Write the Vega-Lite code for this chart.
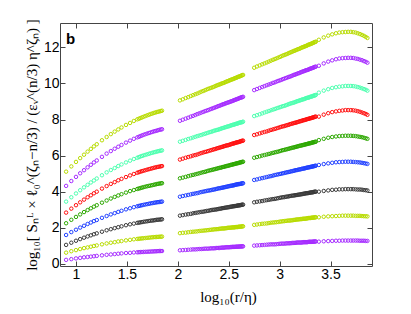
{"$schema":"https://vega.github.io/schema/vega-lite/v6.json","width":312,"height":243,"autosize":"none","padding":{"left":60,"top":23,"right":39,"bottom":48},"background":"white",
"title":{"text":"b","anchor":"start","frame":"group","orient":"top","dx":6,"dy":32,"fontSize":15,"fontWeight":"bold","font":"Liberation Sans","color":"black","offset":4},
"config":{"view":{"stroke":null},"axis":{"grid":false,"domainColor":"#444","domainWidth":1,"tickColor":"#444","tickSize":-5,"labelFont":"Liberation Sans","labelFontSize":14,"labelColor":"black","labelPadding":6,"titleFont":"Liberation Serif","titleFontSize":15,"titleFontWeight":"normal","titleColor":"black"}},
"data":{"values":[
{"n":1,"x":0.903,"y":0.22},{"n":1,"x":0.954,"y":0.26},{"n":1,"x":1.000,"y":0.30},{"n":1,"x":1.041,"y":0.33},{"n":1,"x":1.079,"y":0.36},{"n":1,"x":1.114,"y":0.38},{"n":1,"x":1.146,"y":0.40},{"n":1,"x":1.176,"y":0.42},{"n":1,"x":1.204,"y":0.44},{"n":1,"x":1.255,"y":0.47},{"n":1,"x":1.301,"y":0.50},{"n":1,"x":1.342,"y":0.52},{"n":1,"x":1.380,"y":0.54},{"n":1,"x":1.415,"y":0.56},{"n":1,"x":1.447,"y":0.58},{"n":1,"x":1.491,"y":0.60},{"n":1,"x":1.531,"y":0.61},{"n":1,"x":1.568,"y":0.63},{"n":1,"x":1.602,"y":0.64},{"n":1,"x":1.633,"y":0.65},{"n":1,"x":1.663,"y":0.66},{"n":1,"x":1.699,"y":0.67},{"n":1,"x":1.732,"y":0.68},{"n":1,"x":1.763,"y":0.69},{"n":1,"x":1.792,"y":0.70},{"n":1,"x":1.820,"y":0.71},{"n":1,"x":1.845,"y":0.71},
{"n":1,"x":2.021,"y":0.75},{"n":1,"x":2.077,"y":0.77},{"n":1,"x":2.127,"y":0.79},{"n":1,"x":2.171,"y":0.80},{"n":1,"x":2.211,"y":0.82},{"n":1,"x":2.249,"y":0.83},{"n":1,"x":2.282,"y":0.84},{"n":1,"x":2.314,"y":0.85},{"n":1,"x":2.343,"y":0.86},{"n":1,"x":2.371,"y":0.87},{"n":1,"x":2.397,"y":0.88},{"n":1,"x":2.421,"y":0.89},{"n":1,"x":2.444,"y":0.90},{"n":1,"x":2.466,"y":0.91},{"n":1,"x":2.487,"y":0.92},{"n":1,"x":2.507,"y":0.92},{"n":1,"x":2.526,"y":0.93},{"n":1,"x":2.545,"y":0.94},{"n":1,"x":2.562,"y":0.94},{"n":1,"x":2.579,"y":0.95},{"n":1,"x":2.595,"y":0.95},{"n":1,"x":2.611,"y":0.96},{"n":1,"x":2.626,"y":0.97},{"n":1,"x":2.641,"y":0.97},
{"n":1,"x":2.750,"y":1.01},{"n":1,"x":2.804,"y":1.03},{"n":1,"x":2.851,"y":1.05},{"n":1,"x":2.894,"y":1.07},{"n":1,"x":2.934,"y":1.08},{"n":1,"x":2.969,"y":1.09},{"n":1,"x":3.003,"y":1.11},{"n":1,"x":3.033,"y":1.12},{"n":1,"x":3.062,"y":1.13},{"n":1,"x":3.089,"y":1.14},{"n":1,"x":3.115,"y":1.15},{"n":1,"x":3.139,"y":1.16},{"n":1,"x":3.161,"y":1.17},{"n":1,"x":3.183,"y":1.18},{"n":1,"x":3.204,"y":1.18},{"n":1,"x":3.223,"y":1.19},{"n":1,"x":3.242,"y":1.20},{"n":1,"x":3.260,"y":1.20},{"n":1,"x":3.277,"y":1.21},{"n":1,"x":3.294,"y":1.22},{"n":1,"x":3.310,"y":1.22},{"n":1,"x":3.326,"y":1.23},{"n":1,"x":3.340,"y":1.23},{"n":1,"x":3.355,"y":1.24},
{"n":1,"x":3.385,"y":1.23},{"n":1,"x":3.433,"y":1.25},{"n":1,"x":3.477,"y":1.26},{"n":1,"x":3.516,"y":1.27},{"n":1,"x":3.553,"y":1.28},{"n":1,"x":3.586,"y":1.28},{"n":1,"x":3.617,"y":1.29},{"n":1,"x":3.646,"y":1.29},{"n":1,"x":3.673,"y":1.29},{"n":1,"x":3.699,"y":1.29},{"n":1,"x":3.723,"y":1.29},{"n":1,"x":3.746,"y":1.29},{"n":1,"x":3.767,"y":1.29},{"n":1,"x":3.788,"y":1.28},{"n":1,"x":3.808,"y":1.28},{"n":1,"x":3.827,"y":1.28},{"n":1,"x":3.845,"y":1.27},{"n":1,"x":3.862,"y":1.27},
{"n":2,"x":0.903,"y":0.62},{"n":2,"x":0.954,"y":0.70},{"n":2,"x":1.000,"y":0.76},{"n":2,"x":1.041,"y":0.82},{"n":2,"x":1.079,"y":0.87},{"n":2,"x":1.114,"y":0.91},{"n":2,"x":1.146,"y":0.95},{"n":2,"x":1.176,"y":0.99},{"n":2,"x":1.204,"y":1.02},{"n":2,"x":1.255,"y":1.08},{"n":2,"x":1.301,"y":1.13},{"n":2,"x":1.342,"y":1.17},{"n":2,"x":1.380,"y":1.20},{"n":2,"x":1.415,"y":1.24},{"n":2,"x":1.447,"y":1.26},{"n":2,"x":1.491,"y":1.30},{"n":2,"x":1.531,"y":1.33},{"n":2,"x":1.568,"y":1.36},{"n":2,"x":1.602,"y":1.38},{"n":2,"x":1.633,"y":1.40},{"n":2,"x":1.663,"y":1.42},{"n":2,"x":1.699,"y":1.44},{"n":2,"x":1.732,"y":1.46},{"n":2,"x":1.763,"y":1.48},{"n":2,"x":1.792,"y":1.49},{"n":2,"x":1.820,"y":1.50},{"n":2,"x":1.845,"y":1.51},
{"n":2,"x":2.021,"y":1.70},{"n":2,"x":2.077,"y":1.73},{"n":2,"x":2.127,"y":1.77},{"n":2,"x":2.171,"y":1.79},{"n":2,"x":2.211,"y":1.82},{"n":2,"x":2.249,"y":1.84},{"n":2,"x":2.282,"y":1.86},{"n":2,"x":2.314,"y":1.88},{"n":2,"x":2.343,"y":1.90},{"n":2,"x":2.371,"y":1.92},{"n":2,"x":2.397,"y":1.93},{"n":2,"x":2.421,"y":1.95},{"n":2,"x":2.444,"y":1.96},{"n":2,"x":2.466,"y":1.97},{"n":2,"x":2.487,"y":1.99},{"n":2,"x":2.507,"y":2.00},{"n":2,"x":2.526,"y":2.01},{"n":2,"x":2.545,"y":2.02},{"n":2,"x":2.562,"y":2.03},{"n":2,"x":2.579,"y":2.04},{"n":2,"x":2.595,"y":2.05},{"n":2,"x":2.611,"y":2.06},{"n":2,"x":2.626,"y":2.07},{"n":2,"x":2.641,"y":2.08},
{"n":2,"x":2.750,"y":2.16},{"n":2,"x":2.804,"y":2.20},{"n":2,"x":2.851,"y":2.23},{"n":2,"x":2.894,"y":2.26},{"n":2,"x":2.934,"y":2.29},{"n":2,"x":2.969,"y":2.31},{"n":2,"x":3.003,"y":2.34},{"n":2,"x":3.033,"y":2.36},{"n":2,"x":3.062,"y":2.38},{"n":2,"x":3.089,"y":2.40},{"n":2,"x":3.115,"y":2.41},{"n":2,"x":3.139,"y":2.43},{"n":2,"x":3.161,"y":2.45},{"n":2,"x":3.183,"y":2.46},{"n":2,"x":3.204,"y":2.48},{"n":2,"x":3.223,"y":2.49},{"n":2,"x":3.242,"y":2.50},{"n":2,"x":3.260,"y":2.51},{"n":2,"x":3.277,"y":2.53},{"n":2,"x":3.294,"y":2.54},{"n":2,"x":3.310,"y":2.55},{"n":2,"x":3.326,"y":2.56},{"n":2,"x":3.340,"y":2.57},{"n":2,"x":3.355,"y":2.58},
{"n":2,"x":3.385,"y":2.58},{"n":2,"x":3.433,"y":2.61},{"n":2,"x":3.477,"y":2.63},{"n":2,"x":3.516,"y":2.64},{"n":2,"x":3.553,"y":2.65},{"n":2,"x":3.586,"y":2.66},{"n":2,"x":3.617,"y":2.67},{"n":2,"x":3.646,"y":2.67},{"n":2,"x":3.673,"y":2.67},{"n":2,"x":3.699,"y":2.67},{"n":2,"x":3.723,"y":2.67},{"n":2,"x":3.746,"y":2.66},{"n":2,"x":3.767,"y":2.66},{"n":2,"x":3.788,"y":2.66},{"n":2,"x":3.808,"y":2.65},{"n":2,"x":3.827,"y":2.64},{"n":2,"x":3.845,"y":2.64},{"n":2,"x":3.862,"y":2.63},
{"n":3,"x":0.903,"y":1.05},{"n":3,"x":0.954,"y":1.17},{"n":3,"x":1.000,"y":1.28},{"n":3,"x":1.041,"y":1.37},{"n":3,"x":1.079,"y":1.45},{"n":3,"x":1.114,"y":1.52},{"n":3,"x":1.146,"y":1.58},{"n":3,"x":1.176,"y":1.64},{"n":3,"x":1.204,"y":1.69},{"n":3,"x":1.255,"y":1.78},{"n":3,"x":1.301,"y":1.86},{"n":3,"x":1.342,"y":1.92},{"n":3,"x":1.380,"y":1.98},{"n":3,"x":1.415,"y":2.03},{"n":3,"x":1.447,"y":2.08},{"n":3,"x":1.491,"y":2.14},{"n":3,"x":1.531,"y":2.19},{"n":3,"x":1.568,"y":2.23},{"n":3,"x":1.602,"y":2.27},{"n":3,"x":1.633,"y":2.30},{"n":3,"x":1.663,"y":2.33},{"n":3,"x":1.699,"y":2.36},{"n":3,"x":1.732,"y":2.39},{"n":3,"x":1.763,"y":2.41},{"n":3,"x":1.792,"y":2.44},{"n":3,"x":1.820,"y":2.45},{"n":3,"x":1.845,"y":2.47},
{"n":3,"x":2.021,"y":2.67},{"n":3,"x":2.077,"y":2.73},{"n":3,"x":2.127,"y":2.77},{"n":3,"x":2.171,"y":2.82},{"n":3,"x":2.211,"y":2.86},{"n":3,"x":2.249,"y":2.89},{"n":3,"x":2.282,"y":2.93},{"n":3,"x":2.314,"y":2.96},{"n":3,"x":2.343,"y":2.99},{"n":3,"x":2.371,"y":3.01},{"n":3,"x":2.397,"y":3.04},{"n":3,"x":2.421,"y":3.06},{"n":3,"x":2.444,"y":3.09},{"n":3,"x":2.466,"y":3.11},{"n":3,"x":2.487,"y":3.13},{"n":3,"x":2.507,"y":3.15},{"n":3,"x":2.526,"y":3.17},{"n":3,"x":2.545,"y":3.19},{"n":3,"x":2.562,"y":3.20},{"n":3,"x":2.579,"y":3.22},{"n":3,"x":2.595,"y":3.24},{"n":3,"x":2.611,"y":3.25},{"n":3,"x":2.626,"y":3.27},{"n":3,"x":2.641,"y":3.28},
{"n":3,"x":2.750,"y":3.41},{"n":3,"x":2.804,"y":3.46},{"n":3,"x":2.851,"y":3.51},{"n":3,"x":2.894,"y":3.55},{"n":3,"x":2.934,"y":3.59},{"n":3,"x":2.969,"y":3.62},{"n":3,"x":3.003,"y":3.66},{"n":3,"x":3.033,"y":3.69},{"n":3,"x":3.062,"y":3.72},{"n":3,"x":3.089,"y":3.74},{"n":3,"x":3.115,"y":3.77},{"n":3,"x":3.139,"y":3.79},{"n":3,"x":3.161,"y":3.81},{"n":3,"x":3.183,"y":3.83},{"n":3,"x":3.204,"y":3.85},{"n":3,"x":3.223,"y":3.87},{"n":3,"x":3.242,"y":3.89},{"n":3,"x":3.260,"y":3.91},{"n":3,"x":3.277,"y":3.92},{"n":3,"x":3.294,"y":3.94},{"n":3,"x":3.310,"y":3.96},{"n":3,"x":3.326,"y":3.97},{"n":3,"x":3.340,"y":3.99},{"n":3,"x":3.355,"y":4.00},
{"n":3,"x":3.385,"y":4.00},{"n":3,"x":3.433,"y":4.04},{"n":3,"x":3.477,"y":4.07},{"n":3,"x":3.516,"y":4.10},{"n":3,"x":3.553,"y":4.11},{"n":3,"x":3.586,"y":4.13},{"n":3,"x":3.617,"y":4.13},{"n":3,"x":3.646,"y":4.14},{"n":3,"x":3.673,"y":4.14},{"n":3,"x":3.699,"y":4.14},{"n":3,"x":3.723,"y":4.14},{"n":3,"x":3.746,"y":4.13},{"n":3,"x":3.767,"y":4.12},{"n":3,"x":3.788,"y":4.12},{"n":3,"x":3.808,"y":4.11},{"n":3,"x":3.827,"y":4.09},{"n":3,"x":3.845,"y":4.08},{"n":3,"x":3.862,"y":4.07},
{"n":4,"x":0.903,"y":1.60},{"n":4,"x":0.954,"y":1.76},{"n":4,"x":1.000,"y":1.89},{"n":4,"x":1.041,"y":2.01},{"n":4,"x":1.079,"y":2.11},{"n":4,"x":1.114,"y":2.21},{"n":4,"x":1.146,"y":2.29},{"n":4,"x":1.176,"y":2.37},{"n":4,"x":1.204,"y":2.43},{"n":4,"x":1.255,"y":2.55},{"n":4,"x":1.301,"y":2.65},{"n":4,"x":1.342,"y":2.74},{"n":4,"x":1.380,"y":2.81},{"n":4,"x":1.415,"y":2.88},{"n":4,"x":1.447,"y":2.94},{"n":4,"x":1.491,"y":3.02},{"n":4,"x":1.531,"y":3.08},{"n":4,"x":1.568,"y":3.14},{"n":4,"x":1.602,"y":3.19},{"n":4,"x":1.633,"y":3.23},{"n":4,"x":1.663,"y":3.27},{"n":4,"x":1.699,"y":3.31},{"n":4,"x":1.732,"y":3.35},{"n":4,"x":1.763,"y":3.38},{"n":4,"x":1.792,"y":3.41},{"n":4,"x":1.820,"y":3.43},{"n":4,"x":1.845,"y":3.45},
{"n":4,"x":2.021,"y":3.72},{"n":4,"x":2.077,"y":3.79},{"n":4,"x":2.127,"y":3.85},{"n":4,"x":2.171,"y":3.90},{"n":4,"x":2.211,"y":3.95},{"n":4,"x":2.249,"y":4.00},{"n":4,"x":2.282,"y":4.04},{"n":4,"x":2.314,"y":4.07},{"n":4,"x":2.343,"y":4.11},{"n":4,"x":2.371,"y":4.14},{"n":4,"x":2.397,"y":4.18},{"n":4,"x":2.421,"y":4.20},{"n":4,"x":2.444,"y":4.23},{"n":4,"x":2.466,"y":4.26},{"n":4,"x":2.487,"y":4.28},{"n":4,"x":2.507,"y":4.31},{"n":4,"x":2.526,"y":4.33},{"n":4,"x":2.545,"y":4.35},{"n":4,"x":2.562,"y":4.38},{"n":4,"x":2.579,"y":4.40},{"n":4,"x":2.595,"y":4.42},{"n":4,"x":2.611,"y":4.43},{"n":4,"x":2.626,"y":4.45},{"n":4,"x":2.641,"y":4.47},
{"n":4,"x":2.750,"y":4.65},{"n":4,"x":2.804,"y":4.72},{"n":4,"x":2.851,"y":4.78},{"n":4,"x":2.894,"y":4.84},{"n":4,"x":2.934,"y":4.89},{"n":4,"x":2.969,"y":4.94},{"n":4,"x":3.003,"y":4.98},{"n":4,"x":3.033,"y":5.02},{"n":4,"x":3.062,"y":5.06},{"n":4,"x":3.089,"y":5.09},{"n":4,"x":3.115,"y":5.13},{"n":4,"x":3.139,"y":5.16},{"n":4,"x":3.161,"y":5.19},{"n":4,"x":3.183,"y":5.22},{"n":4,"x":3.204,"y":5.24},{"n":4,"x":3.223,"y":5.27},{"n":4,"x":3.242,"y":5.29},{"n":4,"x":3.260,"y":5.32},{"n":4,"x":3.277,"y":5.34},{"n":4,"x":3.294,"y":5.36},{"n":4,"x":3.310,"y":5.38},{"n":4,"x":3.326,"y":5.40},{"n":4,"x":3.340,"y":5.42},{"n":4,"x":3.355,"y":5.44},
{"n":4,"x":3.385,"y":5.48},{"n":4,"x":3.433,"y":5.53},{"n":4,"x":3.477,"y":5.57},{"n":4,"x":3.516,"y":5.60},{"n":4,"x":3.553,"y":5.63},{"n":4,"x":3.586,"y":5.64},{"n":4,"x":3.617,"y":5.65},{"n":4,"x":3.646,"y":5.66},{"n":4,"x":3.673,"y":5.66},{"n":4,"x":3.699,"y":5.66},{"n":4,"x":3.723,"y":5.65},{"n":4,"x":3.746,"y":5.64},{"n":4,"x":3.767,"y":5.63},{"n":4,"x":3.788,"y":5.62},{"n":4,"x":3.808,"y":5.60},{"n":4,"x":3.827,"y":5.58},{"n":4,"x":3.845,"y":5.56},{"n":4,"x":3.862,"y":5.54},
{"n":5,"x":0.903,"y":2.25},{"n":5,"x":0.954,"y":2.44},{"n":5,"x":1.000,"y":2.60},{"n":5,"x":1.041,"y":2.74},{"n":5,"x":1.079,"y":2.87},{"n":5,"x":1.114,"y":2.98},{"n":5,"x":1.146,"y":3.08},{"n":5,"x":1.176,"y":3.17},{"n":5,"x":1.204,"y":3.25},{"n":5,"x":1.255,"y":3.39},{"n":5,"x":1.301,"y":3.51},{"n":5,"x":1.342,"y":3.62},{"n":5,"x":1.380,"y":3.71},{"n":5,"x":1.415,"y":3.79},{"n":5,"x":1.447,"y":3.86},{"n":5,"x":1.491,"y":3.95},{"n":5,"x":1.531,"y":4.03},{"n":5,"x":1.568,"y":4.09},{"n":5,"x":1.602,"y":4.15},{"n":5,"x":1.633,"y":4.20},{"n":5,"x":1.663,"y":4.25},{"n":5,"x":1.699,"y":4.30},{"n":5,"x":1.732,"y":4.34},{"n":5,"x":1.763,"y":4.38},{"n":5,"x":1.792,"y":4.42},{"n":5,"x":1.820,"y":4.45},{"n":5,"x":1.845,"y":4.47},
{"n":5,"x":2.021,"y":4.74},{"n":5,"x":2.077,"y":4.82},{"n":5,"x":2.127,"y":4.90},{"n":5,"x":2.171,"y":4.96},{"n":5,"x":2.211,"y":5.02},{"n":5,"x":2.249,"y":5.08},{"n":5,"x":2.282,"y":5.13},{"n":5,"x":2.314,"y":5.18},{"n":5,"x":2.343,"y":5.22},{"n":5,"x":2.371,"y":5.26},{"n":5,"x":2.397,"y":5.30},{"n":5,"x":2.421,"y":5.33},{"n":5,"x":2.444,"y":5.37},{"n":5,"x":2.466,"y":5.40},{"n":5,"x":2.487,"y":5.43},{"n":5,"x":2.507,"y":5.46},{"n":5,"x":2.526,"y":5.49},{"n":5,"x":2.545,"y":5.52},{"n":5,"x":2.562,"y":5.54},{"n":5,"x":2.579,"y":5.57},{"n":5,"x":2.595,"y":5.59},{"n":5,"x":2.611,"y":5.62},{"n":5,"x":2.626,"y":5.64},{"n":5,"x":2.641,"y":5.66},
{"n":5,"x":2.750,"y":5.88},{"n":5,"x":2.804,"y":5.96},{"n":5,"x":2.851,"y":6.03},{"n":5,"x":2.894,"y":6.09},{"n":5,"x":2.934,"y":6.15},{"n":5,"x":2.969,"y":6.20},{"n":5,"x":3.003,"y":6.25},{"n":5,"x":3.033,"y":6.30},{"n":5,"x":3.062,"y":6.34},{"n":5,"x":3.089,"y":6.38},{"n":5,"x":3.115,"y":6.42},{"n":5,"x":3.139,"y":6.45},{"n":5,"x":3.161,"y":6.49},{"n":5,"x":3.183,"y":6.52},{"n":5,"x":3.204,"y":6.55},{"n":5,"x":3.223,"y":6.58},{"n":5,"x":3.242,"y":6.60},{"n":5,"x":3.260,"y":6.63},{"n":5,"x":3.277,"y":6.66},{"n":5,"x":3.294,"y":6.68},{"n":5,"x":3.310,"y":6.70},{"n":5,"x":3.326,"y":6.73},{"n":5,"x":3.340,"y":6.75},{"n":5,"x":3.355,"y":6.77},
{"n":5,"x":3.385,"y":6.86},{"n":5,"x":3.433,"y":6.93},{"n":5,"x":3.477,"y":6.99},{"n":5,"x":3.516,"y":7.03},{"n":5,"x":3.553,"y":7.06},{"n":5,"x":3.586,"y":7.08},{"n":5,"x":3.617,"y":7.09},{"n":5,"x":3.646,"y":7.10},{"n":5,"x":3.673,"y":7.10},{"n":5,"x":3.699,"y":7.10},{"n":5,"x":3.723,"y":7.09},{"n":5,"x":3.746,"y":7.08},{"n":5,"x":3.767,"y":7.06},{"n":5,"x":3.788,"y":7.04},{"n":5,"x":3.808,"y":7.02},{"n":5,"x":3.827,"y":6.99},{"n":5,"x":3.845,"y":6.96},{"n":5,"x":3.862,"y":6.93},
{"n":6,"x":0.903,"y":2.84},{"n":6,"x":0.954,"y":3.06},{"n":6,"x":1.000,"y":3.25},{"n":6,"x":1.041,"y":3.41},{"n":6,"x":1.079,"y":3.56},{"n":6,"x":1.114,"y":3.69},{"n":6,"x":1.146,"y":3.80},{"n":6,"x":1.176,"y":3.91},{"n":6,"x":1.204,"y":4.00},{"n":6,"x":1.255,"y":4.17},{"n":6,"x":1.301,"y":4.31},{"n":6,"x":1.342,"y":4.43},{"n":6,"x":1.380,"y":4.53},{"n":6,"x":1.415,"y":4.63},{"n":6,"x":1.447,"y":4.71},{"n":6,"x":1.491,"y":4.81},{"n":6,"x":1.531,"y":4.90},{"n":6,"x":1.568,"y":4.98},{"n":6,"x":1.602,"y":5.05},{"n":6,"x":1.633,"y":5.11},{"n":6,"x":1.663,"y":5.16},{"n":6,"x":1.699,"y":5.22},{"n":6,"x":1.732,"y":5.27},{"n":6,"x":1.763,"y":5.32},{"n":6,"x":1.792,"y":5.36},{"n":6,"x":1.820,"y":5.39},{"n":6,"x":1.845,"y":5.42},
{"n":6,"x":2.021,"y":5.78},{"n":6,"x":2.077,"y":5.88},{"n":6,"x":2.127,"y":5.96},{"n":6,"x":2.171,"y":6.03},{"n":6,"x":2.211,"y":6.10},{"n":6,"x":2.249,"y":6.17},{"n":6,"x":2.282,"y":6.22},{"n":6,"x":2.314,"y":6.28},{"n":6,"x":2.343,"y":6.33},{"n":6,"x":2.371,"y":6.37},{"n":6,"x":2.397,"y":6.42},{"n":6,"x":2.421,"y":6.46},{"n":6,"x":2.444,"y":6.50},{"n":6,"x":2.466,"y":6.54},{"n":6,"x":2.487,"y":6.57},{"n":6,"x":2.507,"y":6.60},{"n":6,"x":2.526,"y":6.64},{"n":6,"x":2.545,"y":6.67},{"n":6,"x":2.562,"y":6.70},{"n":6,"x":2.579,"y":6.73},{"n":6,"x":2.595,"y":6.75},{"n":6,"x":2.611,"y":6.78},{"n":6,"x":2.626,"y":6.81},{"n":6,"x":2.641,"y":6.83},
{"n":6,"x":2.750,"y":7.14},{"n":6,"x":2.804,"y":7.23},{"n":6,"x":2.851,"y":7.31},{"n":6,"x":2.894,"y":7.38},{"n":6,"x":2.934,"y":7.45},{"n":6,"x":2.969,"y":7.51},{"n":6,"x":3.003,"y":7.57},{"n":6,"x":3.033,"y":7.62},{"n":6,"x":3.062,"y":7.67},{"n":6,"x":3.089,"y":7.71},{"n":6,"x":3.115,"y":7.76},{"n":6,"x":3.139,"y":7.80},{"n":6,"x":3.161,"y":7.83},{"n":6,"x":3.183,"y":7.87},{"n":6,"x":3.204,"y":7.91},{"n":6,"x":3.223,"y":7.94},{"n":6,"x":3.242,"y":7.97},{"n":6,"x":3.260,"y":8.00},{"n":6,"x":3.277,"y":8.03},{"n":6,"x":3.294,"y":8.06},{"n":6,"x":3.310,"y":8.08},{"n":6,"x":3.326,"y":8.11},{"n":6,"x":3.340,"y":8.14},{"n":6,"x":3.355,"y":8.16},
{"n":6,"x":3.385,"y":8.16},{"n":6,"x":3.433,"y":8.27},{"n":6,"x":3.477,"y":8.35},{"n":6,"x":3.516,"y":8.41},{"n":6,"x":3.553,"y":8.45},{"n":6,"x":3.586,"y":8.48},{"n":6,"x":3.617,"y":8.50},{"n":6,"x":3.646,"y":8.52},{"n":6,"x":3.673,"y":8.52},{"n":6,"x":3.699,"y":8.52},{"n":6,"x":3.723,"y":8.51},{"n":6,"x":3.746,"y":8.49},{"n":6,"x":3.767,"y":8.46},{"n":6,"x":3.788,"y":8.43},{"n":6,"x":3.808,"y":8.39},{"n":6,"x":3.827,"y":8.35},{"n":6,"x":3.845,"y":8.31},{"n":6,"x":3.862,"y":8.26},
{"n":7,"x":0.903,"y":3.45},{"n":7,"x":0.954,"y":3.69},{"n":7,"x":1.000,"y":3.90},{"n":7,"x":1.041,"y":4.08},{"n":7,"x":1.079,"y":4.24},{"n":7,"x":1.114,"y":4.38},{"n":7,"x":1.146,"y":4.51},{"n":7,"x":1.176,"y":4.62},{"n":7,"x":1.204,"y":4.73},{"n":7,"x":1.255,"y":4.91},{"n":7,"x":1.301,"y":5.07},{"n":7,"x":1.342,"y":5.20},{"n":7,"x":1.380,"y":5.31},{"n":7,"x":1.415,"y":5.42},{"n":7,"x":1.447,"y":5.51},{"n":7,"x":1.491,"y":5.62},{"n":7,"x":1.531,"y":5.72},{"n":7,"x":1.568,"y":5.81},{"n":7,"x":1.602,"y":5.88},{"n":7,"x":1.633,"y":5.95},{"n":7,"x":1.663,"y":6.01},{"n":7,"x":1.699,"y":6.07},{"n":7,"x":1.732,"y":6.13},{"n":7,"x":1.763,"y":6.18},{"n":7,"x":1.792,"y":6.22},{"n":7,"x":1.820,"y":6.26},{"n":7,"x":1.845,"y":6.29},
{"n":7,"x":2.021,"y":6.77},{"n":7,"x":2.077,"y":6.87},{"n":7,"x":2.127,"y":6.96},{"n":7,"x":2.171,"y":7.04},{"n":7,"x":2.211,"y":7.11},{"n":7,"x":2.249,"y":7.18},{"n":7,"x":2.282,"y":7.24},{"n":7,"x":2.314,"y":7.30},{"n":7,"x":2.343,"y":7.35},{"n":7,"x":2.371,"y":7.40},{"n":7,"x":2.397,"y":7.44},{"n":7,"x":2.421,"y":7.49},{"n":7,"x":2.444,"y":7.53},{"n":7,"x":2.466,"y":7.57},{"n":7,"x":2.487,"y":7.61},{"n":7,"x":2.507,"y":7.64},{"n":7,"x":2.526,"y":7.68},{"n":7,"x":2.545,"y":7.71},{"n":7,"x":2.562,"y":7.74},{"n":7,"x":2.579,"y":7.77},{"n":7,"x":2.595,"y":7.80},{"n":7,"x":2.611,"y":7.83},{"n":7,"x":2.626,"y":7.85},{"n":7,"x":2.641,"y":7.88},
{"n":7,"x":2.750,"y":8.19},{"n":7,"x":2.804,"y":8.29},{"n":7,"x":2.851,"y":8.39},{"n":7,"x":2.894,"y":8.47},{"n":7,"x":2.934,"y":8.55},{"n":7,"x":2.969,"y":8.62},{"n":7,"x":3.003,"y":8.68},{"n":7,"x":3.033,"y":8.74},{"n":7,"x":3.062,"y":8.79},{"n":7,"x":3.089,"y":8.85},{"n":7,"x":3.115,"y":8.90},{"n":7,"x":3.139,"y":8.94},{"n":7,"x":3.161,"y":8.99},{"n":7,"x":3.183,"y":9.03},{"n":7,"x":3.204,"y":9.07},{"n":7,"x":3.223,"y":9.11},{"n":7,"x":3.242,"y":9.14},{"n":7,"x":3.260,"y":9.18},{"n":7,"x":3.277,"y":9.21},{"n":7,"x":3.294,"y":9.24},{"n":7,"x":3.310,"y":9.27},{"n":7,"x":3.326,"y":9.30},{"n":7,"x":3.340,"y":9.33},{"n":7,"x":3.355,"y":9.36},
{"n":7,"x":3.385,"y":9.49},{"n":7,"x":3.433,"y":9.60},{"n":7,"x":3.477,"y":9.68},{"n":7,"x":3.516,"y":9.75},{"n":7,"x":3.553,"y":9.79},{"n":7,"x":3.586,"y":9.82},{"n":7,"x":3.617,"y":9.84},{"n":7,"x":3.646,"y":9.86},{"n":7,"x":3.673,"y":9.86},{"n":7,"x":3.699,"y":9.86},{"n":7,"x":3.723,"y":9.85},{"n":7,"x":3.746,"y":9.83},{"n":7,"x":3.767,"y":9.80},{"n":7,"x":3.788,"y":9.77},{"n":7,"x":3.808,"y":9.73},{"n":7,"x":3.827,"y":9.69},{"n":7,"x":3.845,"y":9.65},{"n":7,"x":3.862,"y":9.60},
{"n":8,"x":0.903,"y":4.32},{"n":8,"x":0.954,"y":4.59},{"n":8,"x":1.000,"y":4.82},{"n":8,"x":1.041,"y":5.02},{"n":8,"x":1.079,"y":5.19},{"n":8,"x":1.114,"y":5.35},{"n":8,"x":1.146,"y":5.49},{"n":8,"x":1.176,"y":5.62},{"n":8,"x":1.204,"y":5.73},{"n":8,"x":1.255,"y":5.93},{"n":8,"x":1.301,"y":6.11},{"n":8,"x":1.342,"y":6.25},{"n":8,"x":1.380,"y":6.38},{"n":8,"x":1.415,"y":6.49},{"n":8,"x":1.447,"y":6.59},{"n":8,"x":1.491,"y":6.72},{"n":8,"x":1.531,"y":6.83},{"n":8,"x":1.568,"y":6.93},{"n":8,"x":1.602,"y":7.01},{"n":8,"x":1.633,"y":7.08},{"n":8,"x":1.663,"y":7.15},{"n":8,"x":1.699,"y":7.22},{"n":8,"x":1.732,"y":7.28},{"n":8,"x":1.763,"y":7.34},{"n":8,"x":1.792,"y":7.38},{"n":8,"x":1.820,"y":7.43},{"n":8,"x":1.845,"y":7.46},
{"n":8,"x":2.021,"y":7.93},{"n":8,"x":2.077,"y":8.05},{"n":8,"x":2.127,"y":8.16},{"n":8,"x":2.171,"y":8.25},{"n":8,"x":2.211,"y":8.34},{"n":8,"x":2.249,"y":8.42},{"n":8,"x":2.282,"y":8.49},{"n":8,"x":2.314,"y":8.56},{"n":8,"x":2.343,"y":8.62},{"n":8,"x":2.371,"y":8.68},{"n":8,"x":2.397,"y":8.74},{"n":8,"x":2.421,"y":8.79},{"n":8,"x":2.444,"y":8.84},{"n":8,"x":2.466,"y":8.89},{"n":8,"x":2.487,"y":8.93},{"n":8,"x":2.507,"y":8.97},{"n":8,"x":2.526,"y":9.01},{"n":8,"x":2.545,"y":9.05},{"n":8,"x":2.562,"y":9.09},{"n":8,"x":2.579,"y":9.13},{"n":8,"x":2.595,"y":9.16},{"n":8,"x":2.611,"y":9.20},{"n":8,"x":2.626,"y":9.23},{"n":8,"x":2.641,"y":9.26},
{"n":8,"x":2.750,"y":9.63},{"n":8,"x":2.804,"y":9.75},{"n":8,"x":2.851,"y":9.85},{"n":8,"x":2.894,"y":9.94},{"n":8,"x":2.934,"y":10.03},{"n":8,"x":2.969,"y":10.10},{"n":8,"x":3.003,"y":10.17},{"n":8,"x":3.033,"y":10.24},{"n":8,"x":3.062,"y":10.30},{"n":8,"x":3.089,"y":10.36},{"n":8,"x":3.115,"y":10.41},{"n":8,"x":3.139,"y":10.47},{"n":8,"x":3.161,"y":10.51},{"n":8,"x":3.183,"y":10.56},{"n":8,"x":3.204,"y":10.61},{"n":8,"x":3.223,"y":10.65},{"n":8,"x":3.242,"y":10.69},{"n":8,"x":3.260,"y":10.73},{"n":8,"x":3.277,"y":10.76},{"n":8,"x":3.294,"y":10.80},{"n":8,"x":3.310,"y":10.83},{"n":8,"x":3.326,"y":10.87},{"n":8,"x":3.340,"y":10.90},{"n":8,"x":3.355,"y":10.93},
{"n":8,"x":3.385,"y":10.98},{"n":8,"x":3.433,"y":11.11},{"n":8,"x":3.477,"y":11.21},{"n":8,"x":3.516,"y":11.28},{"n":8,"x":3.553,"y":11.34},{"n":8,"x":3.586,"y":11.38},{"n":8,"x":3.617,"y":11.40},{"n":8,"x":3.646,"y":11.41},{"n":8,"x":3.673,"y":11.42},{"n":8,"x":3.699,"y":11.42},{"n":8,"x":3.723,"y":11.41},{"n":8,"x":3.746,"y":11.38},{"n":8,"x":3.767,"y":11.36},{"n":8,"x":3.788,"y":11.32},{"n":8,"x":3.808,"y":11.29},{"n":8,"x":3.827,"y":11.24},{"n":8,"x":3.845,"y":11.20},{"n":8,"x":3.862,"y":11.15},
{"n":9,"x":0.903,"y":5.11},{"n":9,"x":0.954,"y":5.40},{"n":9,"x":1.000,"y":5.65},{"n":9,"x":1.041,"y":5.86},{"n":9,"x":1.079,"y":6.05},{"n":9,"x":1.114,"y":6.22},{"n":9,"x":1.146,"y":6.37},{"n":9,"x":1.176,"y":6.51},{"n":9,"x":1.204,"y":6.63},{"n":9,"x":1.255,"y":6.85},{"n":9,"x":1.301,"y":7.03},{"n":9,"x":1.342,"y":7.19},{"n":9,"x":1.380,"y":7.33},{"n":9,"x":1.415,"y":7.45},{"n":9,"x":1.447,"y":7.56},{"n":9,"x":1.491,"y":7.70},{"n":9,"x":1.531,"y":7.81},{"n":9,"x":1.568,"y":7.92},{"n":9,"x":1.602,"y":8.01},{"n":9,"x":1.633,"y":8.08},{"n":9,"x":1.663,"y":8.15},{"n":9,"x":1.699,"y":8.23},{"n":9,"x":1.732,"y":8.30},{"n":9,"x":1.763,"y":8.36},{"n":9,"x":1.792,"y":8.41},{"n":9,"x":1.820,"y":8.45},{"n":9,"x":1.845,"y":8.49},
{"n":9,"x":2.021,"y":9.06},{"n":9,"x":2.077,"y":9.19},{"n":9,"x":2.127,"y":9.30},{"n":9,"x":2.171,"y":9.40},{"n":9,"x":2.211,"y":9.49},{"n":9,"x":2.249,"y":9.58},{"n":9,"x":2.282,"y":9.66},{"n":9,"x":2.314,"y":9.73},{"n":9,"x":2.343,"y":9.79},{"n":9,"x":2.371,"y":9.86},{"n":9,"x":2.397,"y":9.92},{"n":9,"x":2.421,"y":9.97},{"n":9,"x":2.444,"y":10.02},{"n":9,"x":2.466,"y":10.07},{"n":9,"x":2.487,"y":10.12},{"n":9,"x":2.507,"y":10.17},{"n":9,"x":2.526,"y":10.21},{"n":9,"x":2.545,"y":10.25},{"n":9,"x":2.562,"y":10.29},{"n":9,"x":2.579,"y":10.33},{"n":9,"x":2.595,"y":10.37},{"n":9,"x":2.611,"y":10.40},{"n":9,"x":2.626,"y":10.44},{"n":9,"x":2.641,"y":10.47},
{"n":9,"x":2.750,"y":10.87},{"n":9,"x":2.804,"y":11.00},{"n":9,"x":2.851,"y":11.11},{"n":9,"x":2.894,"y":11.21},{"n":9,"x":2.934,"y":11.31},{"n":9,"x":2.969,"y":11.39},{"n":9,"x":3.003,"y":11.47},{"n":9,"x":3.033,"y":11.55},{"n":9,"x":3.062,"y":11.61},{"n":9,"x":3.089,"y":11.68},{"n":9,"x":3.115,"y":11.74},{"n":9,"x":3.139,"y":11.80},{"n":9,"x":3.161,"y":11.85},{"n":9,"x":3.183,"y":11.90},{"n":9,"x":3.204,"y":11.95},{"n":9,"x":3.223,"y":12.00},{"n":9,"x":3.242,"y":12.04},{"n":9,"x":3.260,"y":12.08},{"n":9,"x":3.277,"y":12.13},{"n":9,"x":3.294,"y":12.17},{"n":9,"x":3.310,"y":12.20},{"n":9,"x":3.326,"y":12.24},{"n":9,"x":3.340,"y":12.28},{"n":9,"x":3.355,"y":12.31},
{"n":9,"x":3.385,"y":12.42},{"n":9,"x":3.433,"y":12.55},{"n":9,"x":3.477,"y":12.65},{"n":9,"x":3.516,"y":12.72},{"n":9,"x":3.553,"y":12.78},{"n":9,"x":3.586,"y":12.82},{"n":9,"x":3.617,"y":12.84},{"n":9,"x":3.646,"y":12.85},{"n":9,"x":3.673,"y":12.86},{"n":9,"x":3.699,"y":12.86},{"n":9,"x":3.723,"y":12.84},{"n":9,"x":3.746,"y":12.82},{"n":9,"x":3.767,"y":12.78},{"n":9,"x":3.788,"y":12.74},{"n":9,"x":3.808,"y":12.69},{"n":9,"x":3.827,"y":12.64},{"n":9,"x":3.845,"y":12.58},{"n":9,"x":3.862,"y":12.52},
{"n":1,"x":1.618,"y":0.645},{"n":1,"x":1.648,"y":0.655},{"n":1,"x":1.681,"y":0.665},{"n":1,"x":1.716,"y":0.675},{"n":1,"x":1.748,"y":0.685},{"n":1,"x":1.778,"y":0.695},{"n":1,"x":1.806,"y":0.705},{"n":1,"x":1.833,"y":0.71},
{"n":2,"x":1.618,"y":1.39},{"n":2,"x":1.648,"y":1.41},{"n":2,"x":1.681,"y":1.43},{"n":2,"x":1.716,"y":1.45},{"n":2,"x":1.748,"y":1.47},{"n":2,"x":1.778,"y":1.485},{"n":2,"x":1.806,"y":1.495},{"n":2,"x":1.833,"y":1.505},
{"n":3,"x":1.618,"y":2.285},{"n":3,"x":1.648,"y":2.315},{"n":3,"x":1.681,"y":2.345},{"n":3,"x":1.716,"y":2.375},{"n":3,"x":1.748,"y":2.40},{"n":3,"x":1.778,"y":2.425},{"n":3,"x":1.806,"y":2.445},{"n":3,"x":1.833,"y":2.46},
{"n":4,"x":1.618,"y":3.21},{"n":4,"x":1.648,"y":3.25},{"n":4,"x":1.681,"y":3.29},{"n":4,"x":1.716,"y":3.33},{"n":4,"x":1.748,"y":3.365},{"n":4,"x":1.778,"y":3.395},{"n":4,"x":1.806,"y":3.42},{"n":4,"x":1.833,"y":3.44},
{"n":5,"x":1.618,"y":4.175},{"n":5,"x":1.648,"y":4.225},{"n":5,"x":1.681,"y":4.275},{"n":5,"x":1.716,"y":4.32},{"n":5,"x":1.748,"y":4.36},{"n":5,"x":1.778,"y":4.40},{"n":5,"x":1.806,"y":4.435},{"n":5,"x":1.833,"y":4.46},
{"n":6,"x":1.618,"y":5.08},{"n":6,"x":1.648,"y":5.135},{"n":6,"x":1.681,"y":5.19},{"n":6,"x":1.716,"y":5.245},{"n":6,"x":1.748,"y":5.295},{"n":6,"x":1.778,"y":5.34},{"n":6,"x":1.806,"y":5.375},{"n":6,"x":1.833,"y":5.405},
{"n":7,"x":1.618,"y":5.915},{"n":7,"x":1.648,"y":5.98},{"n":7,"x":1.681,"y":6.04},{"n":7,"x":1.716,"y":6.10},{"n":7,"x":1.748,"y":6.155},{"n":7,"x":1.778,"y":6.20},{"n":7,"x":1.806,"y":6.24},{"n":7,"x":1.833,"y":6.275},
{"n":8,"x":1.618,"y":7.045},{"n":8,"x":1.648,"y":7.115},{"n":8,"x":1.681,"y":7.185},{"n":8,"x":1.716,"y":7.25},{"n":8,"x":1.748,"y":7.31},{"n":8,"x":1.778,"y":7.36},{"n":8,"x":1.806,"y":7.405},{"n":8,"x":1.833,"y":7.445},
{"n":9,"x":1.618,"y":8.045},{"n":9,"x":1.648,"y":8.115},{"n":9,"x":1.681,"y":8.19},{"n":9,"x":1.716,"y":8.265},{"n":9,"x":1.748,"y":8.33},{"n":9,"x":1.778,"y":8.385},{"n":9,"x":1.806,"y":8.43},{"n":9,"x":1.833,"y":8.47},
{"n":1,"x":2.049,"y":0.76},{"n":1,"x":2.102,"y":0.78},{"n":1,"x":2.149,"y":0.80},{"n":1,"x":2.191,"y":0.81},{"n":1,"x":2.230,"y":0.82},{"n":1,"x":2.266,"y":0.84},{"n":1,"x":2.298,"y":0.84},{"n":1,"x":2.329,"y":0.86},{"n":1,"x":2.357,"y":0.86},{"n":1,"x":2.384,"y":0.88},{"n":1,"x":2.409,"y":0.88},{"n":1,"x":2.433,"y":0.90},{"n":1,"x":2.455,"y":0.90},{"n":1,"x":2.477,"y":0.92},{"n":1,"x":2.497,"y":0.92},{"n":1,"x":2.517,"y":0.93},{"n":1,"x":2.536,"y":0.94},{"n":1,"x":2.554,"y":0.94},{"n":1,"x":2.571,"y":0.95},{"n":1,"x":2.587,"y":0.95},{"n":1,"x":2.603,"y":0.96},{"n":1,"x":2.619,"y":0.96},{"n":1,"x":2.634,"y":0.97},
{"n":2,"x":2.049,"y":1.72},{"n":2,"x":2.102,"y":1.75},{"n":2,"x":2.149,"y":1.78},{"n":2,"x":2.191,"y":1.80},{"n":2,"x":2.230,"y":1.83},{"n":2,"x":2.266,"y":1.85},{"n":2,"x":2.298,"y":1.87},{"n":2,"x":2.329,"y":1.89},{"n":2,"x":2.357,"y":1.91},{"n":2,"x":2.384,"y":1.92},{"n":2,"x":2.409,"y":1.94},{"n":2,"x":2.433,"y":1.96},{"n":2,"x":2.455,"y":1.96},{"n":2,"x":2.477,"y":1.98},{"n":2,"x":2.497,"y":2.00},{"n":2,"x":2.517,"y":2.00},{"n":2,"x":2.536,"y":2.02},{"n":2,"x":2.554,"y":2.02},{"n":2,"x":2.571,"y":2.04},{"n":2,"x":2.587,"y":2.04},{"n":2,"x":2.603,"y":2.06},{"n":2,"x":2.619,"y":2.06},{"n":2,"x":2.634,"y":2.08},
{"n":3,"x":2.049,"y":2.70},{"n":3,"x":2.102,"y":2.75},{"n":3,"x":2.149,"y":2.80},{"n":3,"x":2.191,"y":2.84},{"n":3,"x":2.230,"y":2.88},{"n":3,"x":2.266,"y":2.91},{"n":3,"x":2.298,"y":2.94},{"n":3,"x":2.329,"y":2.98},{"n":3,"x":2.357,"y":3.00},{"n":3,"x":2.384,"y":3.02},{"n":3,"x":2.409,"y":3.05},{"n":3,"x":2.433,"y":3.08},{"n":3,"x":2.455,"y":3.10},{"n":3,"x":2.477,"y":3.12},{"n":3,"x":2.497,"y":3.14},{"n":3,"x":2.517,"y":3.16},{"n":3,"x":2.536,"y":3.18},{"n":3,"x":2.554,"y":3.20},{"n":3,"x":2.571,"y":3.21},{"n":3,"x":2.587,"y":3.23},{"n":3,"x":2.603,"y":3.24},{"n":3,"x":2.619,"y":3.26},{"n":3,"x":2.634,"y":3.28},
{"n":4,"x":2.049,"y":3.76},{"n":4,"x":2.102,"y":3.82},{"n":4,"x":2.149,"y":3.88},{"n":4,"x":2.191,"y":3.92},{"n":4,"x":2.230,"y":3.98},{"n":4,"x":2.266,"y":4.02},{"n":4,"x":2.298,"y":4.06},{"n":4,"x":2.329,"y":4.09},{"n":4,"x":2.357,"y":4.12},{"n":4,"x":2.384,"y":4.16},{"n":4,"x":2.409,"y":4.19},{"n":4,"x":2.433,"y":4.22},{"n":4,"x":2.455,"y":4.24},{"n":4,"x":2.477,"y":4.27},{"n":4,"x":2.497,"y":4.30},{"n":4,"x":2.517,"y":4.32},{"n":4,"x":2.536,"y":4.34},{"n":4,"x":2.554,"y":4.36},{"n":4,"x":2.571,"y":4.39},{"n":4,"x":2.587,"y":4.41},{"n":4,"x":2.603,"y":4.42},{"n":4,"x":2.619,"y":4.44},{"n":4,"x":2.634,"y":4.46},
{"n":5,"x":2.049,"y":4.78},{"n":5,"x":2.102,"y":4.86},{"n":5,"x":2.149,"y":4.93},{"n":5,"x":2.191,"y":4.99},{"n":5,"x":2.230,"y":5.05},{"n":5,"x":2.266,"y":5.10},{"n":5,"x":2.298,"y":5.16},{"n":5,"x":2.329,"y":5.20},{"n":5,"x":2.357,"y":5.24},{"n":5,"x":2.384,"y":5.28},{"n":5,"x":2.409,"y":5.32},{"n":5,"x":2.433,"y":5.35},{"n":5,"x":2.455,"y":5.38},{"n":5,"x":2.477,"y":5.42},{"n":5,"x":2.497,"y":5.44},{"n":5,"x":2.517,"y":5.48},{"n":5,"x":2.536,"y":5.50},{"n":5,"x":2.554,"y":5.53},{"n":5,"x":2.571,"y":5.56},{"n":5,"x":2.587,"y":5.58},{"n":5,"x":2.603,"y":5.60},{"n":5,"x":2.619,"y":5.63},{"n":5,"x":2.634,"y":5.65},
{"n":6,"x":2.049,"y":5.83},{"n":6,"x":2.102,"y":5.92},{"n":6,"x":2.149,"y":6.00},{"n":6,"x":2.191,"y":6.06},{"n":6,"x":2.230,"y":6.14},{"n":6,"x":2.266,"y":6.20},{"n":6,"x":2.298,"y":6.25},{"n":6,"x":2.329,"y":6.30},{"n":6,"x":2.357,"y":6.35},{"n":6,"x":2.384,"y":6.40},{"n":6,"x":2.409,"y":6.44},{"n":6,"x":2.433,"y":6.48},{"n":6,"x":2.455,"y":6.52},{"n":6,"x":2.477,"y":6.56},{"n":6,"x":2.497,"y":6.58},{"n":6,"x":2.517,"y":6.62},{"n":6,"x":2.536,"y":6.66},{"n":6,"x":2.554,"y":6.68},{"n":6,"x":2.571,"y":6.72},{"n":6,"x":2.587,"y":6.74},{"n":6,"x":2.603,"y":6.76},{"n":6,"x":2.619,"y":6.80},{"n":6,"x":2.634,"y":6.82},
{"n":7,"x":2.049,"y":6.82},{"n":7,"x":2.102,"y":6.92},{"n":7,"x":2.149,"y":7.00},{"n":7,"x":2.191,"y":7.08},{"n":7,"x":2.230,"y":7.14},{"n":7,"x":2.266,"y":7.21},{"n":7,"x":2.298,"y":7.27},{"n":7,"x":2.329,"y":7.32},{"n":7,"x":2.357,"y":7.38},{"n":7,"x":2.384,"y":7.42},{"n":7,"x":2.409,"y":7.46},{"n":7,"x":2.433,"y":7.51},{"n":7,"x":2.455,"y":7.55},{"n":7,"x":2.477,"y":7.59},{"n":7,"x":2.497,"y":7.62},{"n":7,"x":2.517,"y":7.66},{"n":7,"x":2.536,"y":7.70},{"n":7,"x":2.554,"y":7.72},{"n":7,"x":2.571,"y":7.76},{"n":7,"x":2.587,"y":7.78},{"n":7,"x":2.603,"y":7.82},{"n":7,"x":2.619,"y":7.84},{"n":7,"x":2.634,"y":7.86},
{"n":8,"x":2.049,"y":7.99},{"n":8,"x":2.102,"y":8.10},{"n":8,"x":2.149,"y":8.20},{"n":8,"x":2.191,"y":8.30},{"n":8,"x":2.230,"y":8.38},{"n":8,"x":2.266,"y":8.46},{"n":8,"x":2.298,"y":8.52},{"n":8,"x":2.329,"y":8.59},{"n":8,"x":2.357,"y":8.65},{"n":8,"x":2.384,"y":8.71},{"n":8,"x":2.409,"y":8.76},{"n":8,"x":2.433,"y":8.82},{"n":8,"x":2.455,"y":8.86},{"n":8,"x":2.477,"y":8.91},{"n":8,"x":2.497,"y":8.95},{"n":8,"x":2.517,"y":8.99},{"n":8,"x":2.536,"y":9.03},{"n":8,"x":2.554,"y":9.07},{"n":8,"x":2.571,"y":9.11},{"n":8,"x":2.587,"y":9.14},{"n":8,"x":2.603,"y":9.18},{"n":8,"x":2.619,"y":9.22},{"n":8,"x":2.634,"y":9.24},
{"n":9,"x":2.049,"y":9.12},{"n":9,"x":2.102,"y":9.24},{"n":9,"x":2.149,"y":9.35},{"n":9,"x":2.191,"y":9.44},{"n":9,"x":2.230,"y":9.54},{"n":9,"x":2.266,"y":9.62},{"n":9,"x":2.298,"y":9.70},{"n":9,"x":2.329,"y":9.76},{"n":9,"x":2.357,"y":9.82},{"n":9,"x":2.384,"y":9.89},{"n":9,"x":2.409,"y":9.94},{"n":9,"x":2.433,"y":10.00},{"n":9,"x":2.455,"y":10.04},{"n":9,"x":2.477,"y":10.10},{"n":9,"x":2.497,"y":10.14},{"n":9,"x":2.517,"y":10.19},{"n":9,"x":2.536,"y":10.23},{"n":9,"x":2.554,"y":10.27},{"n":9,"x":2.571,"y":10.31},{"n":9,"x":2.587,"y":10.35},{"n":9,"x":2.603,"y":10.38},{"n":9,"x":2.619,"y":10.42},{"n":9,"x":2.634,"y":10.46},
{"n":1,"x":2.777,"y":1.02},{"n":1,"x":2.828,"y":1.04},{"n":1,"x":2.873,"y":1.06},{"n":1,"x":2.914,"y":1.08},{"n":1,"x":2.952,"y":1.08},{"n":1,"x":2.986,"y":1.10},{"n":1,"x":3.018,"y":1.12},{"n":1,"x":3.048,"y":1.12},{"n":1,"x":3.076,"y":1.14},{"n":1,"x":3.102,"y":1.14},{"n":1,"x":3.127,"y":1.16},{"n":1,"x":3.150,"y":1.16},{"n":1,"x":3.172,"y":1.18},{"n":1,"x":3.194,"y":1.18},{"n":1,"x":3.214,"y":1.18},{"n":1,"x":3.233,"y":1.20},{"n":1,"x":3.251,"y":1.20},{"n":1,"x":3.269,"y":1.20},{"n":1,"x":3.286,"y":1.22},{"n":1,"x":3.302,"y":1.22},{"n":1,"x":3.318,"y":1.22},{"n":1,"x":3.333,"y":1.23},{"n":1,"x":3.348,"y":1.24},
{"n":2,"x":2.777,"y":2.18},{"n":2,"x":2.828,"y":2.22},{"n":2,"x":2.873,"y":2.24},{"n":2,"x":2.914,"y":2.28},{"n":2,"x":2.952,"y":2.30},{"n":2,"x":2.986,"y":2.32},{"n":2,"x":3.018,"y":2.35},{"n":2,"x":3.048,"y":2.37},{"n":2,"x":3.076,"y":2.39},{"n":2,"x":3.102,"y":2.40},{"n":2,"x":3.127,"y":2.42},{"n":2,"x":3.150,"y":2.44},{"n":2,"x":3.172,"y":2.46},{"n":2,"x":3.194,"y":2.47},{"n":2,"x":3.214,"y":2.48},{"n":2,"x":3.233,"y":2.50},{"n":2,"x":3.251,"y":2.50},{"n":2,"x":3.269,"y":2.52},{"n":2,"x":3.286,"y":2.54},{"n":2,"x":3.302,"y":2.54},{"n":2,"x":3.318,"y":2.56},{"n":2,"x":3.333,"y":2.56},{"n":2,"x":3.348,"y":2.58},
{"n":3,"x":2.777,"y":3.44},{"n":3,"x":2.828,"y":3.48},{"n":3,"x":2.873,"y":3.53},{"n":3,"x":2.914,"y":3.57},{"n":3,"x":2.952,"y":3.60},{"n":3,"x":2.986,"y":3.64},{"n":3,"x":3.018,"y":3.68},{"n":3,"x":3.048,"y":3.70},{"n":3,"x":3.076,"y":3.73},{"n":3,"x":3.102,"y":3.76},{"n":3,"x":3.127,"y":3.78},{"n":3,"x":3.150,"y":3.80},{"n":3,"x":3.172,"y":3.82},{"n":3,"x":3.194,"y":3.84},{"n":3,"x":3.214,"y":3.86},{"n":3,"x":3.233,"y":3.88},{"n":3,"x":3.251,"y":3.90},{"n":3,"x":3.269,"y":3.92},{"n":3,"x":3.286,"y":3.93},{"n":3,"x":3.302,"y":3.95},{"n":3,"x":3.318,"y":3.96},{"n":3,"x":3.333,"y":3.98},{"n":3,"x":3.348,"y":4.00},
{"n":4,"x":2.777,"y":4.68},{"n":4,"x":2.828,"y":4.75},{"n":4,"x":2.873,"y":4.81},{"n":4,"x":2.914,"y":4.86},{"n":4,"x":2.952,"y":4.92},{"n":4,"x":2.986,"y":4.96},{"n":4,"x":3.018,"y":5.00},{"n":4,"x":3.048,"y":5.04},{"n":4,"x":3.076,"y":5.08},{"n":4,"x":3.102,"y":5.11},{"n":4,"x":3.127,"y":5.14},{"n":4,"x":3.150,"y":5.18},{"n":4,"x":3.172,"y":5.20},{"n":4,"x":3.194,"y":5.23},{"n":4,"x":3.214,"y":5.26},{"n":4,"x":3.233,"y":5.28},{"n":4,"x":3.251,"y":5.30},{"n":4,"x":3.269,"y":5.33},{"n":4,"x":3.286,"y":5.35},{"n":4,"x":3.302,"y":5.37},{"n":4,"x":3.318,"y":5.39},{"n":4,"x":3.333,"y":5.41},{"n":4,"x":3.348,"y":5.43},
{"n":5,"x":2.777,"y":5.92},{"n":5,"x":2.828,"y":6.00},{"n":5,"x":2.873,"y":6.06},{"n":5,"x":2.914,"y":6.12},{"n":5,"x":2.952,"y":6.18},{"n":5,"x":2.986,"y":6.22},{"n":5,"x":3.018,"y":6.28},{"n":5,"x":3.048,"y":6.32},{"n":5,"x":3.076,"y":6.36},{"n":5,"x":3.102,"y":6.40},{"n":5,"x":3.127,"y":6.44},{"n":5,"x":3.150,"y":6.47},{"n":5,"x":3.172,"y":6.50},{"n":5,"x":3.194,"y":6.54},{"n":5,"x":3.214,"y":6.56},{"n":5,"x":3.233,"y":6.59},{"n":5,"x":3.251,"y":6.62},{"n":5,"x":3.269,"y":6.64},{"n":5,"x":3.286,"y":6.67},{"n":5,"x":3.302,"y":6.69},{"n":5,"x":3.318,"y":6.72},{"n":5,"x":3.333,"y":6.74},{"n":5,"x":3.348,"y":6.76},
{"n":6,"x":2.777,"y":7.18},{"n":6,"x":2.828,"y":7.27},{"n":6,"x":2.873,"y":7.34},{"n":6,"x":2.914,"y":7.42},{"n":6,"x":2.952,"y":7.48},{"n":6,"x":2.986,"y":7.54},{"n":6,"x":3.018,"y":7.60},{"n":6,"x":3.048,"y":7.64},{"n":6,"x":3.076,"y":7.69},{"n":6,"x":3.102,"y":7.74},{"n":6,"x":3.127,"y":7.78},{"n":6,"x":3.150,"y":7.82},{"n":6,"x":3.172,"y":7.85},{"n":6,"x":3.194,"y":7.89},{"n":6,"x":3.214,"y":7.92},{"n":6,"x":3.233,"y":7.96},{"n":6,"x":3.251,"y":7.98},{"n":6,"x":3.269,"y":8.02},{"n":6,"x":3.286,"y":8.04},{"n":6,"x":3.302,"y":8.07},{"n":6,"x":3.318,"y":8.10},{"n":6,"x":3.333,"y":8.12},{"n":6,"x":3.348,"y":8.15},
{"n":7,"x":2.777,"y":8.24},{"n":7,"x":2.828,"y":8.34},{"n":7,"x":2.873,"y":8.43},{"n":7,"x":2.914,"y":8.51},{"n":7,"x":2.952,"y":8.58},{"n":7,"x":2.986,"y":8.65},{"n":7,"x":3.018,"y":8.71},{"n":7,"x":3.048,"y":8.76},{"n":7,"x":3.076,"y":8.82},{"n":7,"x":3.102,"y":8.88},{"n":7,"x":3.127,"y":8.92},{"n":7,"x":3.150,"y":8.96},{"n":7,"x":3.172,"y":9.01},{"n":7,"x":3.194,"y":9.05},{"n":7,"x":3.214,"y":9.09},{"n":7,"x":3.233,"y":9.12},{"n":7,"x":3.251,"y":9.16},{"n":7,"x":3.269,"y":9.20},{"n":7,"x":3.286,"y":9.22},{"n":7,"x":3.302,"y":9.26},{"n":7,"x":3.318,"y":9.28},{"n":7,"x":3.333,"y":9.32},{"n":7,"x":3.348,"y":9.34},
{"n":8,"x":2.777,"y":9.69},{"n":8,"x":2.828,"y":9.80},{"n":8,"x":2.873,"y":9.90},{"n":8,"x":2.914,"y":9.98},{"n":8,"x":2.952,"y":10.06},{"n":8,"x":2.986,"y":10.14},{"n":8,"x":3.018,"y":10.20},{"n":8,"x":3.048,"y":10.27},{"n":8,"x":3.076,"y":10.33},{"n":8,"x":3.102,"y":10.38},{"n":8,"x":3.127,"y":10.44},{"n":8,"x":3.150,"y":10.49},{"n":8,"x":3.172,"y":10.54},{"n":8,"x":3.194,"y":10.58},{"n":8,"x":3.214,"y":10.63},{"n":8,"x":3.233,"y":10.67},{"n":8,"x":3.251,"y":10.71},{"n":8,"x":3.269,"y":10.74},{"n":8,"x":3.286,"y":10.78},{"n":8,"x":3.302,"y":10.82},{"n":8,"x":3.318,"y":10.85},{"n":8,"x":3.333,"y":10.88},{"n":8,"x":3.348,"y":10.92},
{"n":9,"x":2.777,"y":10.94},{"n":9,"x":2.828,"y":11.06},{"n":9,"x":2.873,"y":11.16},{"n":9,"x":2.914,"y":11.26},{"n":9,"x":2.952,"y":11.35},{"n":9,"x":2.986,"y":11.43},{"n":9,"x":3.018,"y":11.51},{"n":9,"x":3.048,"y":11.58},{"n":9,"x":3.076,"y":11.64},{"n":9,"x":3.102,"y":11.71},{"n":9,"x":3.127,"y":11.77},{"n":9,"x":3.150,"y":11.82},{"n":9,"x":3.172,"y":11.88},{"n":9,"x":3.194,"y":11.92},{"n":9,"x":3.214,"y":11.98},{"n":9,"x":3.233,"y":12.02},{"n":9,"x":3.251,"y":12.06},{"n":9,"x":3.269,"y":12.10},{"n":9,"x":3.286,"y":12.15},{"n":9,"x":3.302,"y":12.18},{"n":9,"x":3.318,"y":12.22},{"n":9,"x":3.333,"y":12.26},{"n":9,"x":3.348,"y":12.30}
]},
"layer":[
{"mark":{"type":"point","filled":false,"size":12,"strokeWidth":1,"opacity":1},
"encoding":{
"x":{"field":"x","type":"quantitative","scale":{"domain":[0.843,3.907],"nice":false,"zero":false},"axis":{"orient":"bottom","values":[1,1.5,2,2.5,3,3.5],"format":"~g","title":"log₁₀(r/η)","titlePadding":8,"titleX":168}},
"y":{"field":"y","type":"quantitative","scale":{"domain":[-0.12,13.35],"nice":false,"zero":false},"axis":{"orient":"left","values":[0,2,4,6,8,10,12],"format":"d","title":"log₁₀[ Sₙᴸ × ℓ₀^(ζₙ−n/3) / (εᵥ^(n/3) η^ζₙ) ]","titlePadding":4}},
"color":{"field":"n","type":"ordinal","scale":{"domain":[1,2,3,4,5,6,7,8,9],"range":["#a62cff","#b8dc00","#3a3a3a","#2040ff","#2ca800","#ff1010","#4dffb0","#a62cff","#b8dc00"]},"legend":null}}},
{"transform":[{"filter":"datum.n == 1 && datum.x < 0.91"}],
"mark":{"type":"point","opacity":0},
"encoding":{
"x":{"field":"x","type":"quantitative","axis":{"orient":"top","values":[1,1.5,2,2.5,3,3.5],"labels":false,"title":null}},
"y":{"field":"y","type":"quantitative","axis":{"orient":"right","values":[0,2,4,6,8,10,12],"labels":false,"title":null}}}}
],
"resolve":{"axis":{"x":"independent","y":"independent"}}
}
